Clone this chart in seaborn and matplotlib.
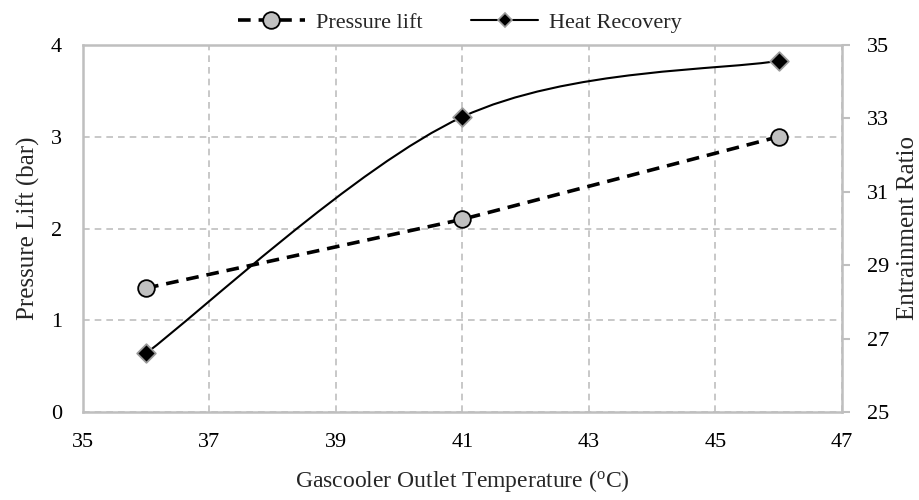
import numpy as np
import seaborn as sns
import matplotlib.pyplot as plt
from matplotlib.path import Path
from matplotlib.patches import PathPatch
from matplotlib.lines import Line2D

# Datos
temperaturas = [36, 41, 46]
pressure_lift = [1.35, 2.1, 3.0]
heat_recovery = [26.6, 33.04, 34.57]

sns.set_style("white")
plt.rcParams["font.family"] = ["Liberation Serif", "DejaVu Serif"]
plt.rcParams["mathtext.fontset"] = "custom"
plt.rcParams["mathtext.rm"] = "Liberation Serif"

gris = "#BFBFBF"
fs = 16

fig, ax = plt.subplots(figsize=(9.2, 5.0), dpi=100)
fig.subplots_adjust(left=0.09, right=0.915, top=0.91, bottom=0.176)

# Serie principal: linea discontinua con circulos
sns.lineplot(x=temperaturas, y=pressure_lift, ax=ax, color="black",
             linewidth=2.6, marker="o", markersize=12,
             markerfacecolor="#C0C0C0", markeredgecolor="black",
             markeredgewidth=1.3, zorder=4)
ax.lines[0].set_dashes((3.5, 2.2))

ax.set_xlim(35, 47)
ax.set_ylim(0, 4)
ax.set_xticks(np.arange(35, 48, 2))
ax.set_yticks(np.arange(0, 5, 1))
ax.tick_params(axis="both", length=0, labelsize=fs, pad=15, colors="black")
ax.grid(True, color=gris, linestyle=(0, (4, 3)), linewidth=1.2)
ax.set_axisbelow(True)
for s in ax.spines.values():
    s.set_color(gris)
    s.set_linewidth(1.8)
ax.set_xlabel(r"Gascooler Outlet Temperature ($\mathregular{^{o}}$C)",
              fontsize=17, labelpad=12)
ax.set_ylabel("Pressure Lift (bar)", fontsize=18, labelpad=8)

# Eje secundario: curva suavizada (estilo Excel) con rombos
ax2 = ax.twinx()
ax2.set_ylim(25, 35)
ax2.set_yticks(np.arange(25, 36, 2))
ax2.tick_params(axis="y", length=6, width=1.5, color=gris, labelsize=fs,
                pad=12, labelcolor="black")
for s in ax2.spines.values():
    s.set_visible(False)
ax2.set_ylabel("Entrainment Ratio", fontsize=18, labelpad=6)

# Bezier de Catmull-Rom a partir de los puntos
pts = np.column_stack([temperaturas, heat_recovery]).astype(float)
n = len(pts)
verts = [tuple(pts[0])]
codes = [Path.MOVETO]
for i in range(n - 1):
    p_prev = pts[max(i - 1, 0)]
    p0, p1 = pts[i], pts[i + 1]
    p_next = pts[min(i + 2, n - 1)]
    c1 = p0 + (p1 - p_prev) / 6
    c2 = p1 - (p_next - p0) / 6
    verts += [tuple(c1), tuple(c2), tuple(p1)]
    codes += [Path.CURVE4] * 3
ax2.add_patch(PathPatch(Path(verts, codes), fill=False, edgecolor="black",
                        linewidth=1.5, zorder=3))

sns.scatterplot(x=temperaturas, y=heat_recovery, ax=ax2, marker="D",
                s=90, color="black", edgecolor="#9A9A9A", linewidth=1.3,
                zorder=5)
ax2.set_xlim(35, 47)

# Leyenda superior
handles = [
    Line2D([], [], color="black", linewidth=2.6, dashes=(3.5, 2.2),
           marker="o", markersize=12, markerfacecolor="#C0C0C0",
           markeredgecolor="black", markeredgewidth=1.3),
    Line2D([], [], color="black", linewidth=1.5, marker="D", markersize=7,
           markerfacecolor="black", markeredgecolor="#9A9A9A",
           markeredgewidth=1.2),
]
fig.legend(handles, ["Pressure lift", "Heat Recovery"], loc="upper center",
           bbox_to_anchor=(0.5, 1.015), ncol=2, frameon=False, fontsize=fs,
           handlelength=3.0, columnspacing=2.2, handletextpad=0.5)

fig.savefig("out.png", dpi=100)
